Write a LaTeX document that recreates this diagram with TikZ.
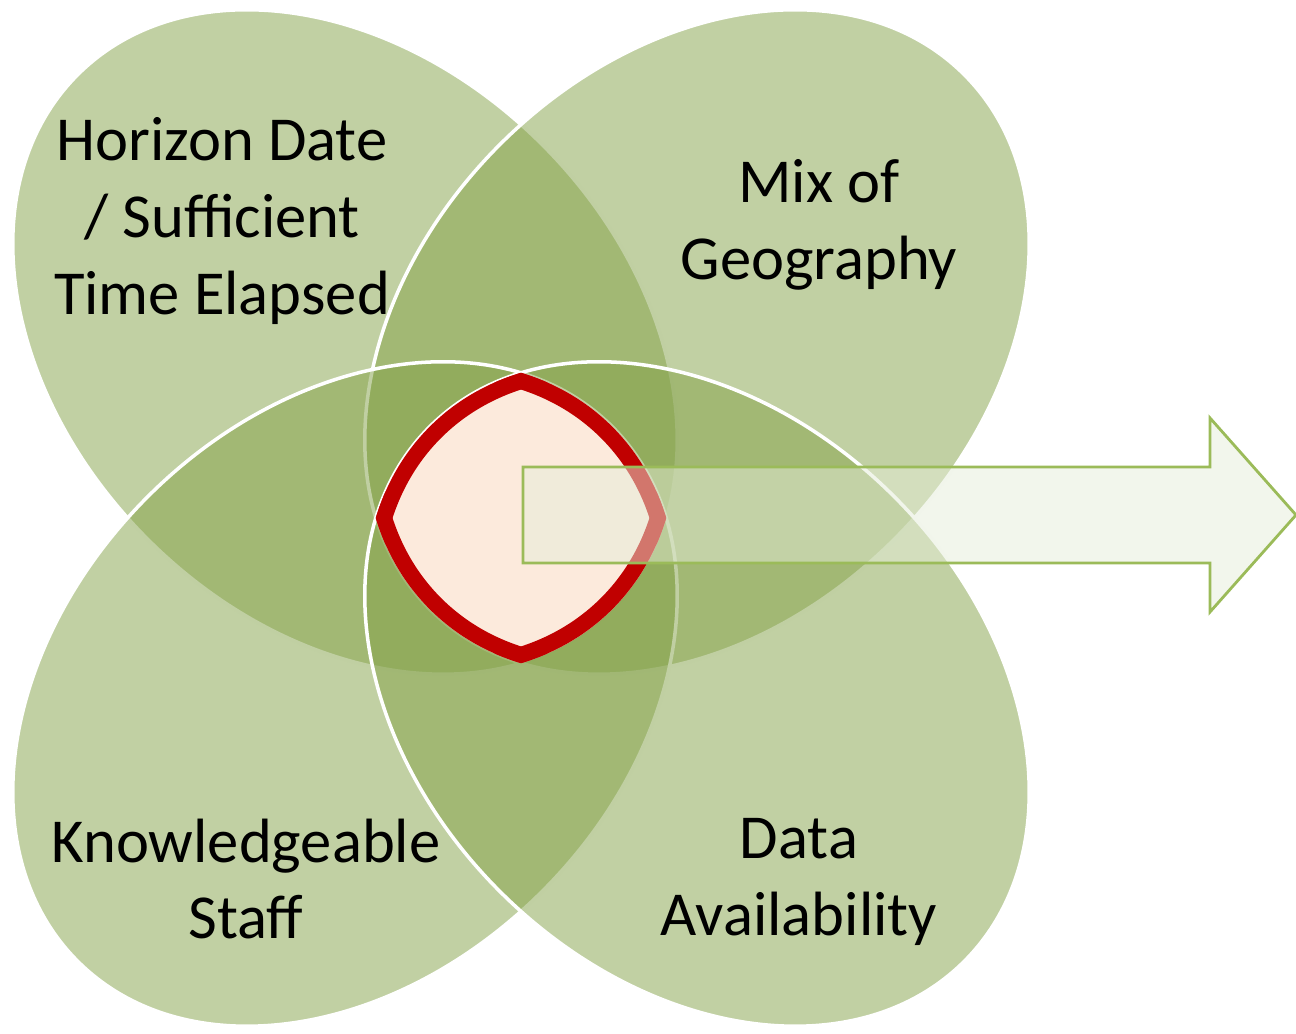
\documentclass[tikz,border=0pt]{standalone}
\usepackage{fontspec}
\setmainfont{Carlito}
\usepackage{xcolor}

\definecolor{venngreen}{RGB}{131,161,71}
\definecolor{corepeach}{RGB}{252,234,220}
\definecolor{corered}{RGB}{192,0,0}
\definecolor{arrowline}{RGB}{155,187,89}
\definecolor{arrowfill}{RGB}{229,237,217}

\def\ellTL{(3.45,6.92) ellipse [x radius=3.78, y radius=2.79, rotate=-45]}
\def\ellTR{(6.97,6.92) ellipse [x radius=3.78, y radius=2.79, rotate=45]}
\def\ellBL{(3.45,3.40) ellipse [x radius=3.78, y radius=2.79, rotate=45]}
\def\ellBR{(6.97,3.40) ellipse [x radius=3.78, y radius=2.79, rotate=-45]}

\begin{document}
\begin{tikzpicture}[venn/.style={fill=venngreen, fill opacity=0.5, draw=white, line width=1pt},
  coreline/.style={draw=corered, line width=0.32cm},
  lbl/.style={align=center, font=\fontsize{17.8}{21.8}\selectfont}]
\useasboundingbox (0,0) rectangle (12.96,10.34);

\draw[venn] \ellTL;
\draw[venn] \ellTR;
\draw[venn] \ellBL;
\draw[venn] \ellBR;

\begin{scope}
\clip \ellTL;
\clip \ellTR;
\clip \ellBL;
\clip \ellBR;
\fill[corepeach] (0,0) rectangle (12.96,10.34);
\draw[coreline] \ellTL;
\draw[coreline] \ellTR;
\draw[coreline] \ellBL;
\draw[coreline] \ellBR;
\end{scope}

\coordinate (tail) at (5.23,5.19);
\coordinate (tip) at (12.96,5.19);
\draw[draw=arrowline, line width=0.8pt, fill=arrowfill, fill opacity=0.5]
  (tail) ++(0,0.48) -- ++(6.87,0) -- ++(0,0.49) -- (tip)
  -- ++(-0.86,-0.97) -- ++(0,0.49) -- ++(-6.87,0) -- cycle;

\node[lbl] (hd) at (2.22,8.13) {Horizon Date\\ / Sufficient\\ Time Elapsed};
\node[lbl] (mg) at (8.19,8.09) {Mix of\\ Geography};
\node[lbl] (ks) at (2.46,1.55) {Knowledgeable\\ Staff};
\node[lbl] (da) at (7.99,1.52) {Data\\ Availability};

\end{tikzpicture}
\end{document}
